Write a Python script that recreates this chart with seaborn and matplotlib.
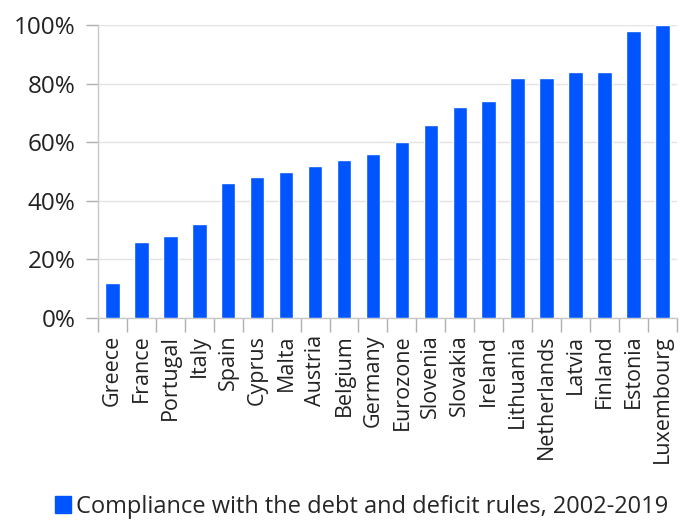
import matplotlib
matplotlib.use("Agg")
import matplotlib.pyplot as plt
from matplotlib.ticker import FuncFormatter, FixedLocator
from matplotlib.patches import Patch
import seaborn as sns
import pandas as pd
import numpy as np

countries = ["Greece", "France", "Portugal", "Italy", "Spain", "Cyprus", "Malta",
             "Austria", "Belgium", "Germany", "Eurozone", "Slovenia", "Slovakia",
             "Ireland", "Lithuania", "Netherlands", "Latvia", "Finland", "Estonia",
             "Luxembourg"]
compliance = [12, 26, 28, 32, 46, 48, 50, 52, 54, 56, 60, 66, 72, 74, 82, 82, 84, 84, 98, 100]
y_ticks = [0, 20, 40, 60, 80, 100]
series_label = "Compliance with the debt and deficit rules, 2002-2019"

bar_color = "#0055ff"

sns.set_theme(style="white")
plt.rcParams["font.family"] = ["Open Sans", "DejaVu Sans"]

df = pd.DataFrame({"country": countries, "share": compliance})

fig = plt.figure(figsize=(6.83, 5.21), dpi=100)
ax = fig.add_axes([0.1435, 0.3896, 0.8475, 0.5624])

sns.barplot(data=df, x="country", y="share", color=bar_color, width=0.5,
            saturation=1, ax=ax, zorder=3)

ax.set_ylim(0, 100)
ax.set_xlim(-0.5, len(countries) - 0.5)
ax.yaxis.set_major_locator(FixedLocator(y_ticks))
ax.yaxis.set_major_formatter(FuncFormatter(lambda v, _: f"{v:.0f}%"))
ax.yaxis.grid(True, color="#e3e3e3", linewidth=1, zorder=0)

ax.set_xlabel("")
ax.set_ylabel("")
ax.tick_params(axis="y", labelsize=17.5, colors="#222222", length=9, width=1,
               left=True, pad=7)
ax.tick_params(axis="y", which="major", color="#b0b0b0")
# category separators as minor ticks below the axis
ax.set_xticks(np.arange(len(countries) + 1) - 0.5, minor=True)
ax.tick_params(axis="x", which="minor", bottom=True, length=10, width=1,
               color="#b0b0b0")
ax.tick_params(axis="x", which="major", bottom=False, labelsize=15.5,
               labelcolor="#222222", pad=6)
ax.set_xticks(range(len(countries)))
ax.set_xticklabels(countries, rotation=90)

for side in ["top", "right"]:
    ax.spines[side].set_visible(False)
for side in ["left", "bottom"]:
    ax.spines[side].set_color("#c8c8c8")
    ax.spines[side].set_linewidth(1)

handle = Patch(facecolor=bar_color, edgecolor=bar_color, label=series_label)
fig.legend(handles=[handle], loc="lower left", bbox_to_anchor=(0.066, -0.014),
           frameon=False, fontsize=17.0, handlelength=0.7, handleheight=0.7,
           handletextpad=0.2, borderaxespad=0)

fig.savefig("out.png", dpi=100, facecolor="white")
